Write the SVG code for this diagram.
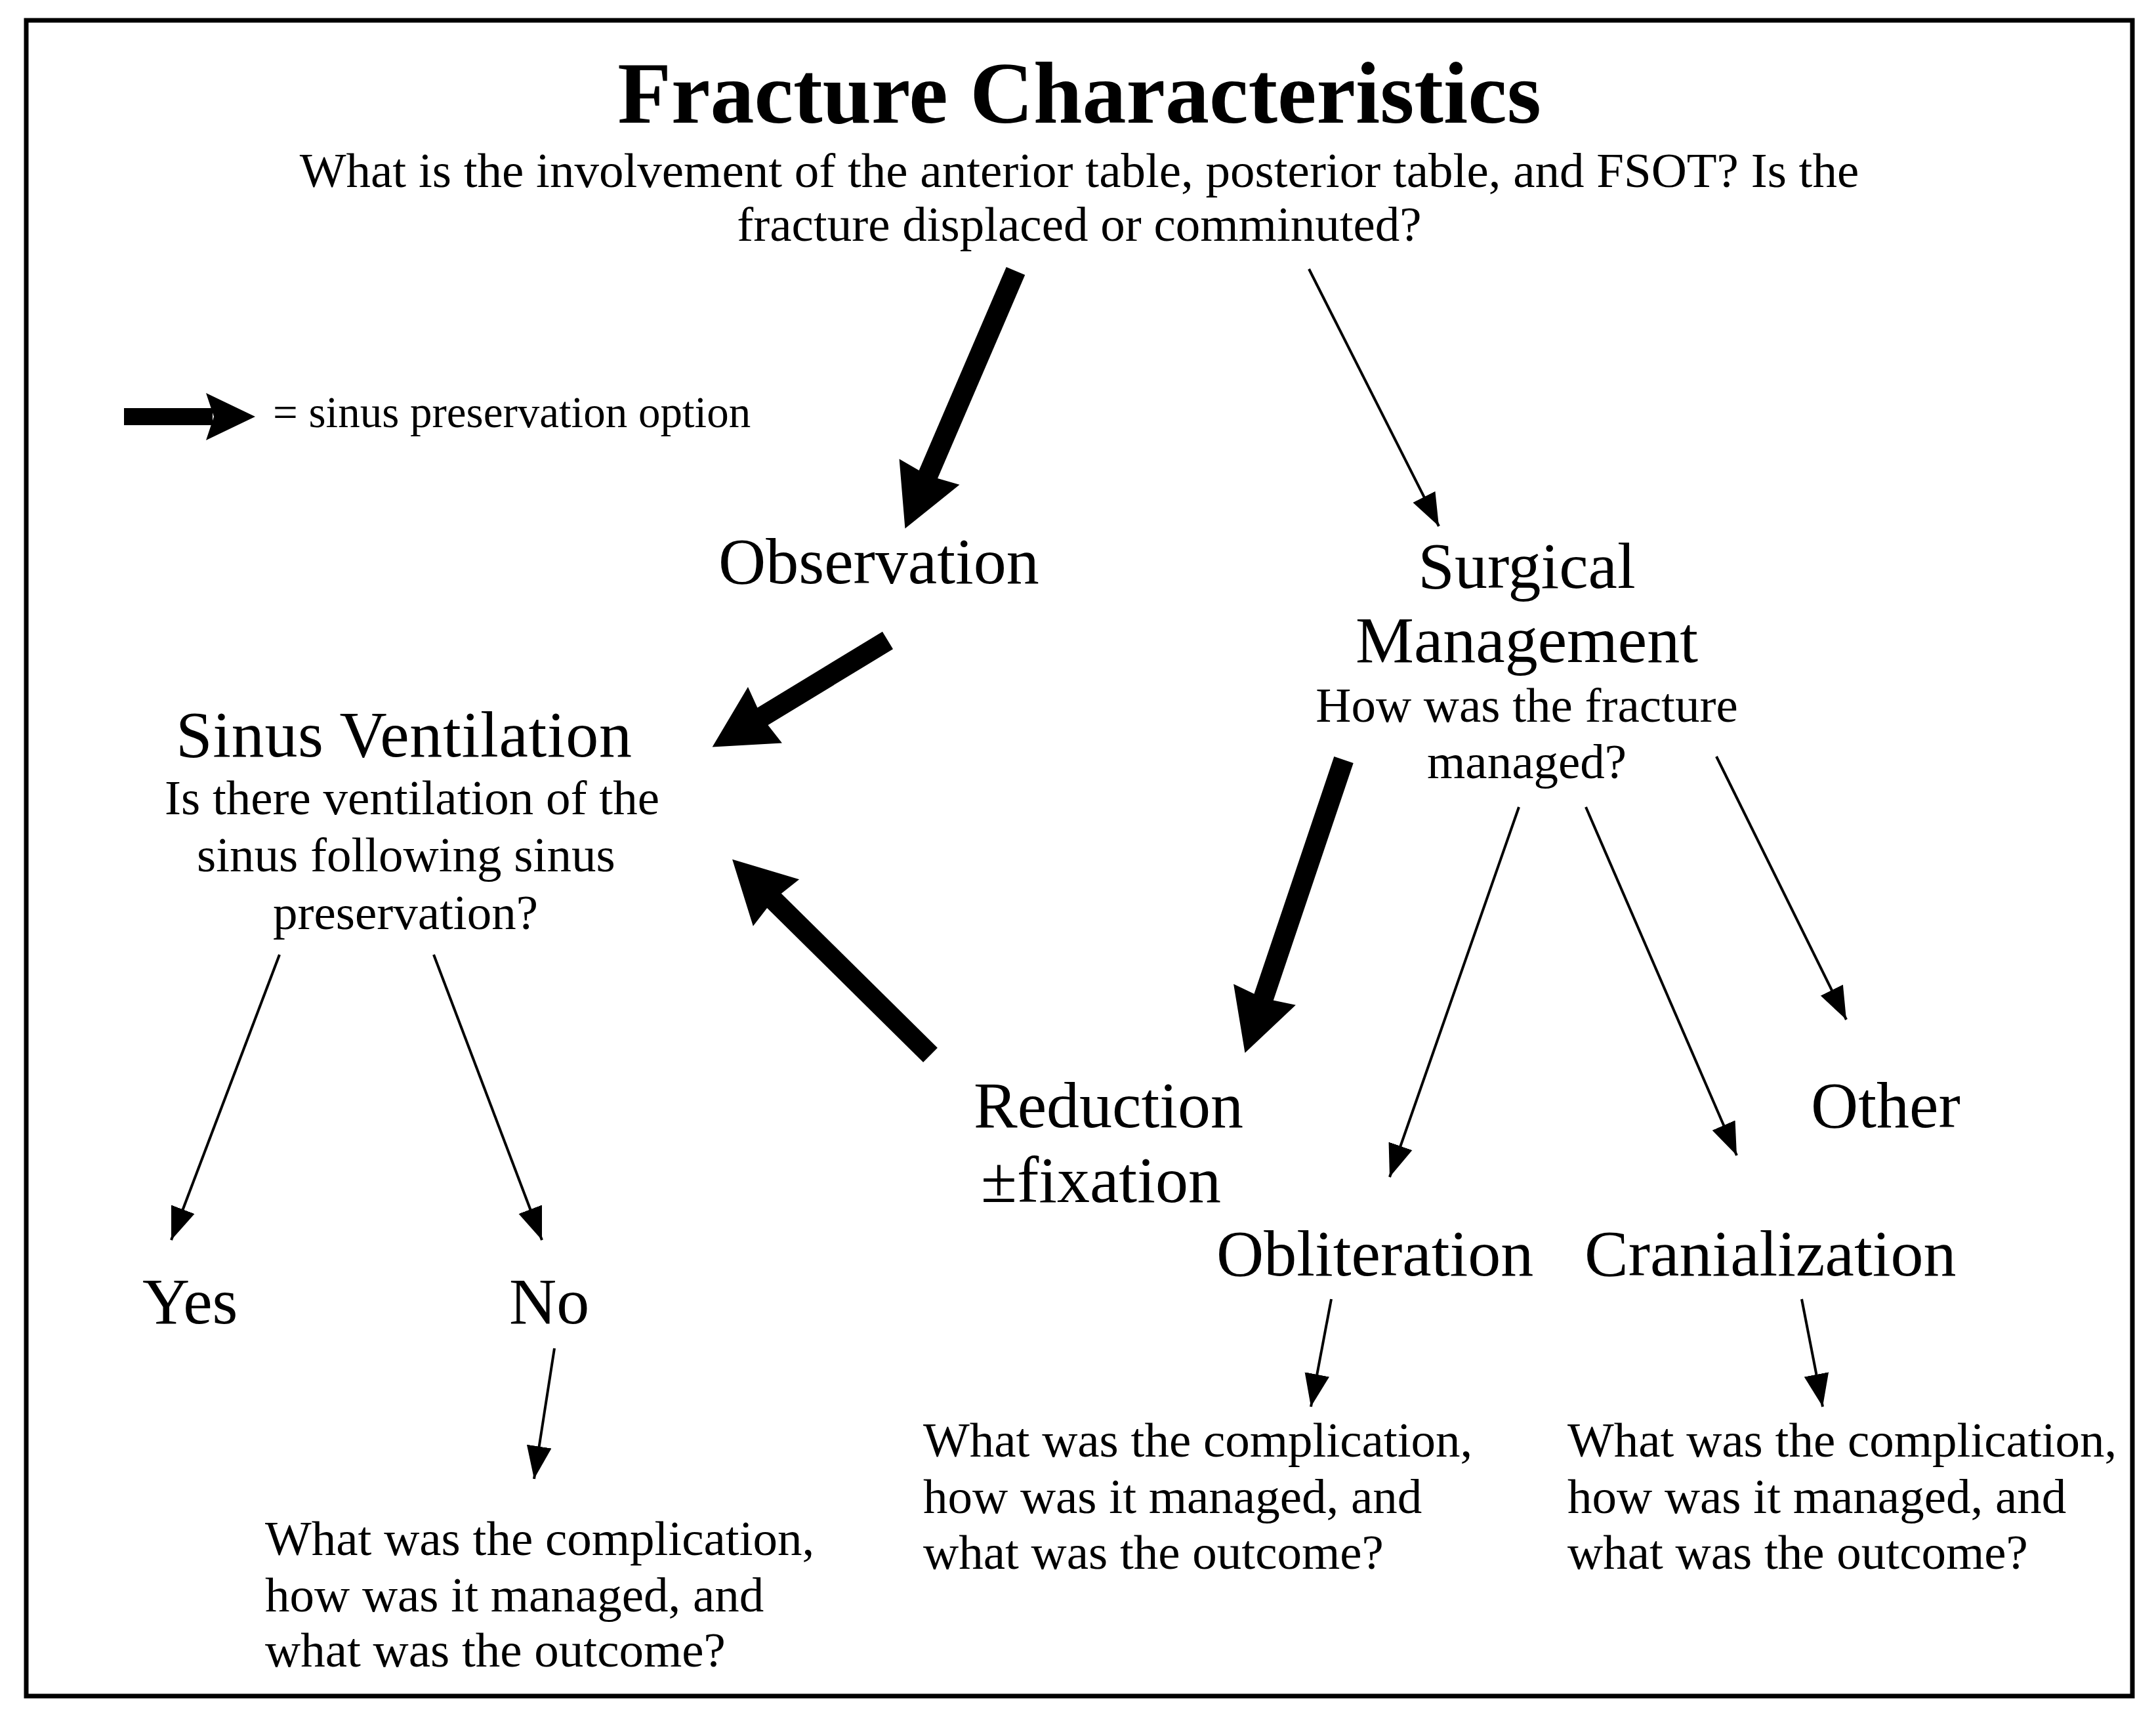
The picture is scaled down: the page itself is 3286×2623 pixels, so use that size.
<svg xmlns="http://www.w3.org/2000/svg" width="3286" height="2623" viewBox="0 0 3286 2623">
<defs>
<style>
text{font-family:"Liberation Serif","Times New Roman",serif;fill:#000}
.t{font-size:134px;font-weight:bold}
.big{font-size:100px}
.sm{font-size:75px}
.leg{font-size:67px}
.mid{text-anchor:middle}
.thin{stroke:#000;stroke-width:4;fill:none}
.thick{stroke:#000;stroke-width:31;fill:none}
</style>
<marker id="hthin" markerUnits="userSpaceOnUse" viewBox="0 -21 52 42" refX="50" refY="0" markerWidth="52" markerHeight="42" orient="auto">
<path d="M0,-19 L50,0 L0,19 Z" fill="#000"/>
</marker>
<marker id="hthick" markerUnits="userSpaceOnUse" viewBox="-20 -52 104 104" refX="0" refY="0" markerWidth="104" markerHeight="104" orient="auto">
<path d="M-14,-50 L80,0 L-14,50 L-8,0 Z" fill="#000"/>
</marker>
</defs>
<rect width="3286" height="2623" fill="#fff"/>
<rect x="40" y="31" width="3210" height="2554" fill="none" stroke="#000" stroke-width="7"/>

<g id="title">
<text class="t mid" x="1645" y="187">Fracture Characteristics</text>
<text class="sm mid" x="1645" y="285">What is the involvement of the anterior table, posterior table, and FSOT? Is the</text>
<text class="sm mid" x="1645" y="367">fracture displaced or comminuted?</text>
</g>

<g id="legend">
<rect x="189" y="622" width="135" height="26" fill="#000"/>
<path d="M314,599 L389,635 L314,671 L326,635 Z" fill="#000"/>
<text class="leg" x="416" y="651">= sinus preservation option</text>
</g>

<g id="observation"><text class="big" x="1095" y="889">Observation</text></g>

<g id="surgical">
<text class="big mid" x="2327" y="896">Surgical</text>
<text class="big mid" x="2327" y="1009">Management</text>
<text class="sm mid" x="2327" y="1100">How was the fracture</text>
<text class="sm mid" x="2327" y="1186">managed?</text>
</g>

<g id="sinus-ventilation">
<text class="big" x="268" y="1153" textLength="695" lengthAdjust="spacing">Sinus Ventilation</text>
<text class="sm" x="251" y="1241">Is there ventilation of the</text>
<text class="sm" x="300" y="1328">sinus following sinus</text>
<text class="sm" x="416" y="1416">preservation?</text>
</g>

<g id="yes"><text class="big" x="217" y="2017">Yes</text></g>
<g id="no"><text class="big" x="776" y="2017">No</text></g>

<g id="reduction">
<text class="big" x="1484" y="1718">Reduction</text>
<text class="big" x="1495" y="1832">±fixation</text>
</g>

<g id="other"><text class="big" x="2760" y="1718">Other</text></g>
<g id="obliteration"><text class="big" x="1854" y="1944">Obliteration</text></g>
<g id="cranialization"><text class="big" x="2415" y="1944">Cranialization</text></g>

<g id="q-no">
<text class="sm" x="404" y="2370">What was the complication,</text>
<text class="sm" x="404" y="2456">how was it managed, and</text>
<text class="sm" x="404" y="2540">what was the outcome?</text>
</g>
<g id="q-obliteration">
<text class="sm" x="1407" y="2220">What was the complication,</text>
<text class="sm" x="1407" y="2306">how was it managed, and</text>
<text class="sm" x="1407" y="2391">what was the outcome?</text>
</g>
<g id="q-cranialization">
<text class="sm" x="2389" y="2220">What was the complication,</text>
<text class="sm" x="2389" y="2306">how was it managed, and</text>
<text class="sm" x="2389" y="2391">what was the outcome?</text>
</g>

<g id="connectors">
<line class="thick" x1="1548" y1="413" x2="1411" y2="732" marker-end="url(#hthick)"/>
<line class="thick" x1="1353" y1="976" x2="1154" y2="1097" marker-end="url(#hthick)"/>
<line class="thick" x1="1418" y1="1608" x2="1173" y2="1366" marker-end="url(#hthick)"/>
<line class="thick" x1="2048" y1="1158" x2="1923" y2="1529" marker-end="url(#hthick)"/>
<line class="thin" x1="1995" y1="410" x2="2193" y2="802" marker-end="url(#hthin)"/>
<line class="thin" x1="2315" y1="1230" x2="2118" y2="1794" marker-end="url(#hthin)"/>
<line class="thin" x1="2417" y1="1230" x2="2647" y2="1761" marker-end="url(#hthin)"/>
<line class="thin" x1="2616" y1="1153" x2="2814" y2="1554" marker-end="url(#hthin)"/>
<line class="thin" x1="426" y1="1455" x2="261" y2="1890" marker-end="url(#hthin)"/>
<line class="thin" x1="661" y1="1455" x2="826" y2="1890" marker-end="url(#hthin)"/>
<line class="thin" x1="845" y1="2055" x2="814" y2="2254" marker-end="url(#hthin)"/>
<line class="thin" x1="2029" y1="1980" x2="1998" y2="2144" marker-end="url(#hthin)"/>
<line class="thin" x1="2746" y1="1980" x2="2778" y2="2144" marker-end="url(#hthin)"/>
</g>
</svg>
